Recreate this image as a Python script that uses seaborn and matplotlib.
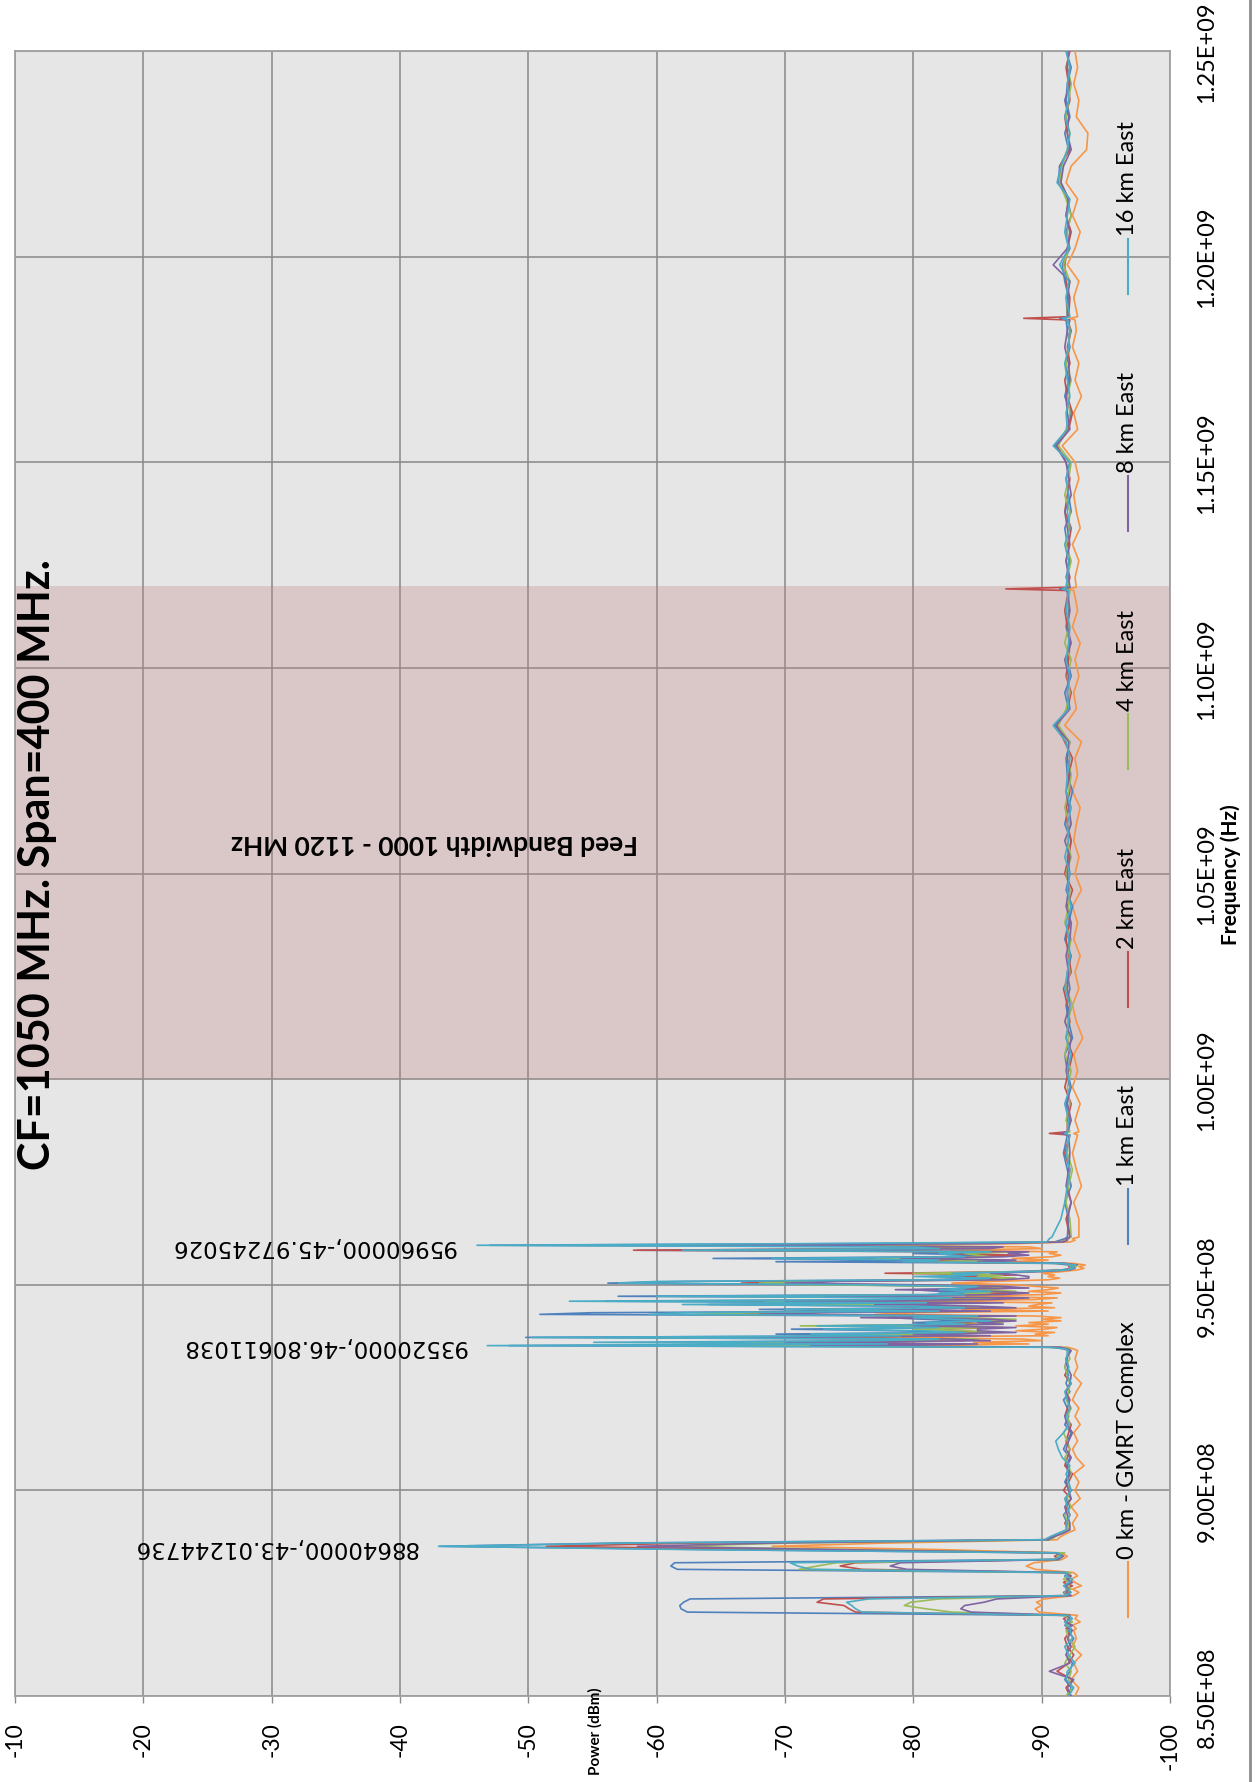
import numpy as np
import pandas as pd
import matplotlib
matplotlib.use("Agg")
import matplotlib.pyplot as plt
import seaborn as sns
from matplotlib.lines import Line2D

# ---------------- data ----------------
series_names = ["0 km - GMRT Complex", "1 km East", "2 km East", "4 km East", "8 km East", "16 km East"]
series_colors = ["#F79646", "#4F81BD", "#C0504D", "#9BBB59", "#8064A2", "#4BACC6"]

# sweep frequencies (MHz), by segment
freq_a = np.arange(850, 867, 2)                          # 9
freq_b = np.round(np.arange(866.4, 890.5, 0.8), 1)       # 31
freq_c = np.arange(892, 933, 2)                          # 21
freq_d = np.round(np.arange(934.0, 961.7, 0.4), 1)       # 70
freq_e = np.concatenate([np.arange(966, 983, 4), [986.4, 986.8, 987.2],
                         np.arange(990, 1115, 4), [1118.8, 1119.2, 1119.6],
                         np.arange(1122, 1183, 4), [1184.6, 1185.0, 1185.4],
                         np.arange(1190, 1251, 4)])      # 78

power_0km = [
    # A
    -92.6, -92.9, -92.3, -92.8, -92.5, -93.1, -92.4, -92.7, -92.5,
    # B
    -92.7, -92.4, -93.0, -92.6, -92.8, -89.8, -89.5, -90.0, -89.6, -90.2,
    -92.5, -92.9, -92.4, -93.1, -92.6, -92.3, -92.8, -92.5, -89.5, -88.8,
    -89.4, -91.6, -92.0, -91.4, -82.0, -69.0, -78.0, -91.2, -91.5, -92.0,
    -92.6,
    # C
    -92.4, -92.8, -92.3, -93.0, -92.6, -92.9, -92.5, -93.3, -92.7, -92.4,
    -92.8, -92.5, -93.0, -92.6, -92.9, -92.4, -92.7, -93.1, -92.5, -92.8,
    -92.6,
    # D
    -92.8, -92.5, -92.0, -76.4, -89.0, -84.7, -90.0, -88.5, -75.0, -90.5,
    -89.5, -91.0, -88.0, -90.2, -91.2, -88.0, -90.5, -89.0, -91.5, -90.0,
    -91.5, -89.5, -77.0, -80.0, -90.5, -83.8, -91.0, -89.0, -89.7, -90.8,
    -80.0, -89.5, -91.2, -84.1, -90.0, -91.5, -89.0, -90.5, -91.3, -89.5,
    -88.0, -83.0, -86.0, -90.5, -91.4, -90.5, -91.0, -90.0, -91.6, -92.8,
    -93.3, -92.9, -93.4, -92.5, -87.5, -90.5, -87.7, -90.8, -91.5, -90.6,
    -91.2, -82.9, -90.0, -89.0, -73.0, -88.0, -92.2, -92.6, -92.4, -92.9,
    # E
    -92.9, -92.5, -93.1, -92.7, -92.4,
    -92.8, -92.5, -92.9,
    -92.6, -93.0, -92.4, -92.8, -92.5, -93.2, -92.7, -92.4, -92.9, -92.6,
    -93.0, -92.5, -92.8, -92.4, -93.1, -92.6, -92.9, -92.5, -92.7, -93.0,
    -92.4, -92.8, -92.6, -93.1, -91.8, -92.7, -92.5, -92.9, -92.6, -93.0,
    -92.4, -92.8,
    -92.5, -92.0, -92.7,
    -92.6, -92.9, -92.4, -93.0, -92.7, -92.5, -92.9, -92.6, -91.6, -92.8,
    -92.5, -93.1, -92.6, -92.9, -92.4, -92.7,
    -92.6, -92.2, -92.8,
    -92.5, -92.9, -92.0, -92.6, -93.0, -92.4, -92.8, -91.9, -92.3, -93.5,
    -93.6, -92.7, -92.9, -92.5, -92.8, -92.6,
]

power_1km = [
    # A
    -92.0, -92.3, -91.8, -92.2, -92.4, -91.9, -92.1, -92.5, -92.0,
    # B
    -92.1, -91.8, -92.3, -92.0, -92.2, -62.4, -61.9, -61.8, -62.1, -62.6,
    -92.0, -91.7, -92.2, -91.9, -92.3, -92.0, -91.8, -92.1, -61.6, -61.1,
    -61.4, -91.2, -91.6, -91.0, -64.0, -43.1, -57.0, -90.3, -90.8, -91.4,
    -92.0,
    # C
    -92.0, -91.7, -92.2, -91.9, -92.3, -91.8, -92.1, -91.9, -92.2, -91.7,
    -92.0, -92.3, -91.8, -92.1, -92.0, -91.7, -92.2, -91.9, -92.1, -91.8,
    -92.0,
    # D
    -92.0, -91.8, -90.8, -48.5, -76.0, -60.0, -80.0, -78.0, -49.8, -81.0,
    -69.3, -83.0, -79.0, -70.5, -84.0, -74.0, -82.0, -80.0, -84.0, -81.0,
    -78.0, -83.0, -50.9, -55.0, -80.0, -68.0, -82.0, -79.0, -64.0, -83.0,
    -56.0, -80.0, -84.0, -57.0, -81.0, -85.0, -82.0, -80.0, -86.0, -83.0,
    -74.0, -56.2, -62.0, -81.0, -85.0, -82.0, -86.0, -82.0, -88.0, -91.5,
    -92.3, -92.6, -92.1, -91.0, -69.3, -84.0, -64.4, -82.0, -86.0, -80.0,
    -85.0, -58.5, -80.0, -84.0, -47.0, -75.0, -91.0, -91.4, -91.8, -92.0,
    # E
    -92.1, -91.8, -92.3, -92.0, -91.7,
    -92.0, -91.6, -92.1,
    -92.2, -91.9, -92.3, -92.0, -91.8, -92.4, -92.1, -91.9, -92.2, -92.0,
    -92.3, -91.8, -92.1, -92.4, -91.9, -92.2, -92.0, -92.3, -91.8, -92.1,
    -92.4, -92.0, -91.9, -92.2, -91.0, -92.1, -91.8, -92.3, -92.0, -92.2,
    -91.9, -92.1,
    -92.0, -91.5, -92.2,
    -91.9, -92.2, -92.0, -91.8, -92.3, -92.1, -91.9, -92.2, -91.0, -92.0,
    -92.3, -91.8, -92.1, -91.9, -92.2, -92.0,
    -91.9, -91.4, -92.1,
    -92.1, -91.8, -91.6, -92.2, -91.9, -92.3, -92.0, -91.3, -91.4, -92.1,
    -91.8, -92.2, -91.9, -92.0, -92.3, -91.9,
]

power_2km = [
    # A
    -92.2, -91.9, -92.4, -91.2, -92.1, -92.5, -92.0, -91.8, -92.3,
    # B
    -91.9, -92.3, -92.0, -91.7, -92.2, -75.5, -75.0, -74.6, -72.5, -73.0,
    -91.8, -92.2, -91.9, -92.4, -91.7, -92.1, -92.3, -91.9, -76.0, -74.3,
    -75.5, -91.4, -91.0, -91.7, -70.0, -51.4, -63.0, -90.6, -91.0, -91.6,
    -92.1,
    # C
    -91.8, -92.2, -91.9, -92.3, -91.7, -92.1, -92.4, -91.8, -92.0, -92.2,
    -91.9, -92.1, -92.3, -91.8, -92.0, -92.2, -91.9, -92.3, -91.8, -92.1,
    -91.9,
    # D
    -92.2, -91.9, -91.2, -67.5, -82.0, -72.0, -84.0, -80.0, -71.5, -85.0,
    -78.0, -86.0, -83.0, -82.0, -87.0, -77.0, -85.0, -83.0, -87.0, -84.0,
    -79.0, -86.0, -65.0, -70.0, -84.0, -72.0, -86.0, -82.0, -74.0, -85.0,
    -63.0, -83.0, -87.0, -70.0, -85.0, -88.0, -84.0, -84.0, -88.0, -85.0,
    -78.0, -66.6, -70.0, -84.0, -87.0, -84.0, -88.0, -77.8, -89.0, -91.8,
    -92.4, -92.1, -92.8, -91.6, -80.0, -86.0, -75.0, -85.0, -88.0, -83.0,
    -87.0, -58.2, -83.0, -85.0, -64.7, -82.0, -91.5, -91.8, -92.1, -92.2,
    # E
    -91.9, -92.3, -92.0, -92.2, -91.8,
    -92.2, -90.6, -92.0,
    -92.0, -92.3, -91.8, -92.1, -92.4, -91.9, -92.2, -92.0, -91.7, -92.3,
    -92.1, -91.9, -92.2, -92.0, -92.4, -91.8, -92.1, -92.3, -92.0, -91.9,
    -92.2, -92.1, -92.4, -91.8, -91.2, -92.0, -92.3, -91.9, -92.1, -92.2,
    -92.0, -91.8,
    -92.1, -87.2, -92.0,
    -92.2, -91.9, -92.1, -92.3, -91.8, -92.0, -92.2, -91.9, -91.2, -92.1,
    -92.4, -92.0, -91.8, -92.2, -92.0, -92.3,
    -92.0, -88.6, -92.1,
    -92.2, -91.9, -91.8, -92.0, -92.3, -91.9, -92.1, -91.5, -91.4, -92.2,
    -92.0, -91.8, -92.2, -92.1, -91.9, -92.2,
]

power_4km = [
    # A
    -91.9, -92.4, -92.1, -92.3, -91.8, -92.2, -92.6, -92.1, -91.9,
    # B
    -92.2, -91.9, -92.4, -92.1, -91.8, -83.0, -81.0, -79.3, -79.8, -82.0,
    -92.1, -91.8, -92.3, -92.0, -92.2, -91.7, -92.0, -92.3, -71.1, -72.5,
    -74.0, -91.5, -91.2, -91.8, -75.0, -61.0, -70.5, -90.7, -91.1, -91.5,
    -92.0,
    # C
    -92.1, -91.8, -92.3, -92.0, -92.2, -91.9, -92.3, -92.1, -91.8, -92.2,
    -92.0, -91.7, -92.2, -92.0, -92.3, -91.9, -92.1, -92.2, -92.0, -91.8,
    -92.2,
    # D
    -92.0, -92.2, -91.4, -63.7, -83.0, -66.0, -82.0, -85.0, -60.3, -84.0,
    -76.0, -87.0, -84.0, -80.0, -86.0, -71.2, -85.0, -87.0, -85.7, -88.0,
    -82.0, -87.0, -63.0, -67.0, -85.0, -75.0, -87.0, -84.0, -72.0, -86.0,
    -68.5, -84.0, -88.0, -66.0, -86.0, -84.0, -88.0, -85.0, -87.0, -86.0,
    -71.5, -68.0, -72.0, -86.0, -88.0, -85.0, -87.0, -80.0, -89.5, -92.0,
    -92.3, -92.7, -92.2, -91.8, -82.0, -87.0, -77.0, -86.0, -85.0, -84.0,
    -88.0, -67.0, -85.0, -86.0, -69.0, -84.0, -91.6, -91.9, -92.0, -92.3,
    # E
    -92.2, -91.9, -92.1, -92.4, -92.0,
    -92.1, -91.8, -92.2,
    -91.9, -92.2, -92.0, -92.3, -91.8, -92.1, -92.0, -92.4, -91.9, -92.2,
    -92.0, -92.3, -91.8, -92.1, -92.2, -91.9, -92.3, -92.0, -92.2, -91.8,
    -92.1, -92.3, -92.0, -92.2, -91.3, -91.9, -92.2, -92.0, -92.3, -91.8,
    -92.1, -92.0,
    -92.2, -91.6, -92.1,
    -92.0, -92.3, -91.9, -92.1, -92.2, -91.8, -92.1, -92.3, -91.3, -91.9,
    -92.2, -92.0, -92.3, -91.9, -92.1, -92.2,
    -92.1, -91.7, -92.0,
    -91.9, -92.2, -91.7, -92.1, -92.0, -92.3, -91.9, -91.4, -91.6, -92.0,
    -92.2, -91.9, -92.1, -92.3, -92.0, -92.1,
]

power_8km = [
    # A
    -92.3, -92.0, -92.5, -90.6, -92.2, -91.9, -92.3, -92.0, -92.4,
    # B
    -92.0, -92.4, -91.8, -92.2, -92.0, -84.5, -83.7, -84.0, -85.5, -86.5,
    -92.3, -91.9, -92.1, -91.8, -92.4, -92.0, -92.2, -91.8, -79.5, -78.2,
    -79.0, -91.3, -91.7, -91.1, -74.0, -58.5, -69.0, -90.5, -91.0, -91.7,
    -92.2,
    # C
    -92.2, -92.0, -91.8, -92.3, -92.1, -91.9, -92.2, -92.0, -92.3, -91.9,
    -92.1, -92.4, -92.0, -91.8, -92.2, -92.1, -91.9, -92.2, -92.3, -92.0,
    -91.9,
    # D
    -92.3, -92.0, -91.5, -72.0, -85.0, -70.0, -86.0, -83.0, -62.5, -86.0,
    -80.0, -88.0, -85.0, -85.0, -88.0, -80.0, -87.0, -85.0, -88.0, -86.0,
    -75.9, -88.0, -68.0, -73.0, -86.0, -76.0, -88.0, -85.0, -77.0, -87.0,
    -70.0, -86.0, -89.0, -73.0, -87.0, -89.0, -86.0, -78.6, -89.0, -87.0,
    -80.0, -70.0, -74.0, -87.0, -89.0, -89.0, -88.0, -86.0, -90.0, -92.2,
    -92.6, -92.3, -92.5, -91.9, -85.0, -88.0, -79.0, -87.0, -89.0, -87.4,
    -89.0, -70.0, -86.0, -87.0, -62.8, -86.0, -91.7, -92.0, -91.9, -92.2,
    # E
    -92.0, -92.3, -91.9, -92.1, -92.2,
    -92.1, -91.5, -92.0,
    -92.3, -92.0, -92.2, -91.9, -92.1, -92.3, -91.8, -92.2, -92.0, -92.1,
    -91.9, -92.2, -92.3, -91.9, -92.1, -92.0, -92.2, -91.8, -92.3, -92.1,
    -91.9, -92.2, -92.0, -92.1, -91.1, -92.2, -92.0, -92.1, -91.8, -92.3,
    -92.0, -92.2,
    -92.0, -91.4, -92.2,
    -92.1, -91.9, -92.2, -92.0, -91.8, -92.3, -92.1, -91.9, -91.1, -92.2,
    -92.0, -91.9, -92.2, -92.1, -91.8, -92.0,
    -92.2, -91.5, -92.0,
    -92.0, -92.2, -90.9, -92.0, -92.2, -91.9, -92.1, -91.5, -91.7, -92.3,
    -92.0, -92.1, -91.8, -92.2, -92.0, -92.1,
]

power_16km = [
    # A
    -92.1, -92.5, -91.9, -92.0, -92.6, -92.1, -91.8, -92.4, -92.2,
    # B
    -92.3, -92.0, -91.8, -92.4, -92.1, -76.0, -75.5, -75.2, -74.8, -76.5,
    -91.9, -92.3, -92.0, -91.7, -92.1, -92.4, -91.9, -92.0, -72.0, -71.0,
    -70.4, -91.0, -91.5, -91.3, -63.0, -43.0, -58.5, -90.2, -90.7, -91.3,
    -91.9,
    # C
    -91.9, -92.2, -92.0, -91.8, -92.3, -92.1, -91.9, -92.2, -91.6, -91.3,
    -91.1, -91.7, -92.1, -91.9, -92.2, -92.0, -91.8, -92.3, -92.0, -92.1,
    -91.9,
    # D
    -92.1, -91.9, -90.5, -46.8, -78.0, -55.1, -77.0, -82.0, -50.3, -79.0,
    -72.0, -84.0, -81.0, -73.0, -82.0, -72.5, -84.0, -81.0, -86.0, -83.0,
    -80.0, -85.0, -59.4, -62.0, -82.0, -70.0, -84.0, -80.0, -62.0, -81.0,
    -53.2, -78.0, -83.0, -60.0, -84.0, -82.0, -86.0, -82.0, -84.0, -85.0,
    -76.0, -57.0, -60.0, -83.0, -86.0, -80.1, -85.0, -83.0, -89.0, -92.0,
    -92.5, -92.2, -92.7, -91.5, -79.2, -82.0, -69.0, -84.0, -83.0, -82.0,
    -86.0, -62.0, -82.0, -80.0, -46.0, -72.0, -90.4, -90.5, -90.6, -90.8,
    # E
    -91.5, -91.8, -92.0, -92.2, -91.9,
    -92.2, -91.8, -92.0,
    -92.1, -91.8, -92.2, -92.0, -92.3, -91.9, -92.1, -92.2, -91.8, -92.0,
    -92.2, -92.1, -91.9, -92.3, -92.0, -92.2, -91.8, -92.1, -92.0, -92.3,
    -91.9, -92.0, -92.2, -91.9, -90.9, -92.1, -92.0, -92.2, -91.9, -92.1,
    -92.2, -91.9,
    -92.1, -91.6, -91.9,
    -92.0, -92.1, -91.8, -92.2, -92.0, -92.1, -91.9, -92.2, -90.9, -92.0,
    -91.9, -92.2, -92.0, -91.8, -92.1, -92.2,
    -92.0, -91.6, -92.2,
    -91.9, -92.1, -91.4, -92.1, -91.8, -92.0, -92.2, -91.2, -91.5, -92.0,
    -92.2, -91.8, -92.1, -92.0, -92.2, -91.9,
]

power_ticks = [-10, -20, -30, -40, -50, -60, -70, -80, -90, -100]
power_tick_labels = ["-10", "-20", "-30", "-40", "-50", "-60", "-70", "-80", "-90", "-100"]
freq_ticks_hz = [850e6, 900e6, 950e6, 1000e6, 1050e6, 1100e6, 1150e6, 1200e6, 1250e6]
freq_tick_labels = ["8.50E+08", "9.00E+08", "9.50E+08", "1.00E+09", "1.05E+09",
                    "1.10E+09", "1.15E+09", "1.20E+09", "1.25E+09"]

band_mhz = [1000, 1120]
band_label = "Feed Bandwidth 1000 - 1120 MHz"

peak_freqs_mhz = [886.4, 935.2, 959.6]
peak_levels = [-43.01244736, -46.80611038, -45.97245026]
peak_labels = ["88640000,-43.01244736", "93520000,-46.80611038", "95960000,-45.97245026"]

title_text = "CF=1050 MHz. Span=400 MHz."
xlabel_text = "Power (dBm)"
ylabel_text = "Frequency (Hz)"

# ---------------- build table ----------------
freq_mhz = np.concatenate([freq_a, freq_b, freq_c, freq_d, freq_e])
all_powers = [power_0km, power_1km, power_2km, power_4km, power_8km, power_16km]
frames = []
for name, p in zip(series_names, all_powers):
    if len(p) != len(freq_mhz):
        raise ValueError(f"{name}: {len(p)} values vs {len(freq_mhz)} frequencies")
    frames.append(pd.DataFrame({"freq": freq_mhz * 1e6, "power": p, "series": name}))
df = pd.concat(frames, ignore_index=True)

# ---------------- figure ----------------
plt.rcParams["font.family"] = ["Lato", "DejaVu Sans"]
W, H = 1255, 1783
fig = plt.figure(figsize=(W / 100, H / 100), dpi=100)
fig.patch.set_facecolor("white")

ax_l, ax_r, ax_t, ax_b = 15, 1170, 52, 1697
ax = fig.add_axes([ax_l / W, 1 - ax_b / H, (ax_r - ax_l) / W, (ax_b - ax_t) / H])
ax.set_facecolor("#e6e6e6")

sns.lineplot(data=df, x="power", y="freq", hue="series", hue_order=series_names,
             palette=dict(zip(series_names, series_colors)), estimator=None,
             errorbar=None, sort=False, orient="y", linewidth=1.2, legend=False,
             ax=ax, zorder=3)

ax.axhspan(band_mhz[0] * 1e6, band_mhz[1] * 1e6, facecolor=(0.75, 0.5, 0.5),
           alpha=0.3, lw=0, zorder=1)

ax.set_xlim(-10, -100)
ax.set_ylim(850e6, 1250e6)
ax.set_xticks(power_ticks)
ax.set_xticklabels(power_tick_labels)
ax.yaxis.tick_right()
ax.set_yticks(freq_ticks_hz)
ax.set_yticklabels(freq_tick_labels)
ax.set_xlabel("")
ax.set_ylabel("")
ax.grid(True, color="#878787", lw=1.1)
ax.set_axisbelow(True)
for s in ax.spines.values():
    s.set_color("#a0a0a0")
    s.set_linewidth(1.3)

ax.tick_params(axis="x", direction="out", length=5, width=1, color="#8a8a8a",
               pad=13, labelsize=16.5, labelrotation=90)
ax.tick_params(axis="y", length=0, pad=19, labelsize=17, labelrotation=90,
               right=True, left=False, labelright=True, labelleft=False)
for lbl in ax.get_yticklabels():
    lbl.set_va("center")
    lbl.set_ha("left")

# data labels (upside down)
for f, v, t in zip(peak_freqs_mhz, peak_levels, peak_labels):
    ax.annotate(t, xy=(v, f * 1e6), xytext=(-21, 0), textcoords="offset pixels",
                rotation=180, ha="right", va="center", fontsize=16.5,
                family="DejaVu Sans", zorder=5)

# band label
ax.text((435 - ax_l) / (ax_r - ax_l), (ax_b - 843) / (ax_b - ax_t), band_label,
        transform=ax.transAxes, rotation=180, ha="center", va="center",
        fontsize=19, fontweight="bold", zorder=5)

# title
fig.text(37 / W, 1 - 865 / H, title_text, rotation=90, ha="center", va="center",
         fontsize=31, fontweight="bold")

# axis titles
fig.text(1231 / W, 1 - 875 / H, ylabel_text, rotation=90, ha="center", va="center",
         fontsize=15, fontweight="bold")
fig.text(595 / W, 1 - 1731 / H, xlabel_text, rotation=90, ha="center", va="center",
         fontsize=11, fontweight="bold")

# legend (rotated, drawn manually)
legend_x = 1128
legend_line_bottom = [1618, 1245, 1008, 770, 532, 295]
line_len, gap = 55, 4
for name, col, yb in zip(series_names, series_colors, legend_line_bottom):
    fig.add_artist(Line2D([legend_x / W, legend_x / W],
                          [1 - yb / H, 1 - (yb - line_len) / H],
                          transform=fig.transFigure, color=col, lw=1.5))
    fig.text(legend_x / W, 1 - (yb - line_len - gap) / H, name, rotation=90,
             ha="center", va="bottom", fontsize=17)

# chart-area border on the right
fig.add_artist(Line2D([1250 / W, 1250 / W], [0, 1], transform=fig.transFigure,
                      color="#8c8c8c", lw=2))

fig.savefig("out.png", dpi=100)
